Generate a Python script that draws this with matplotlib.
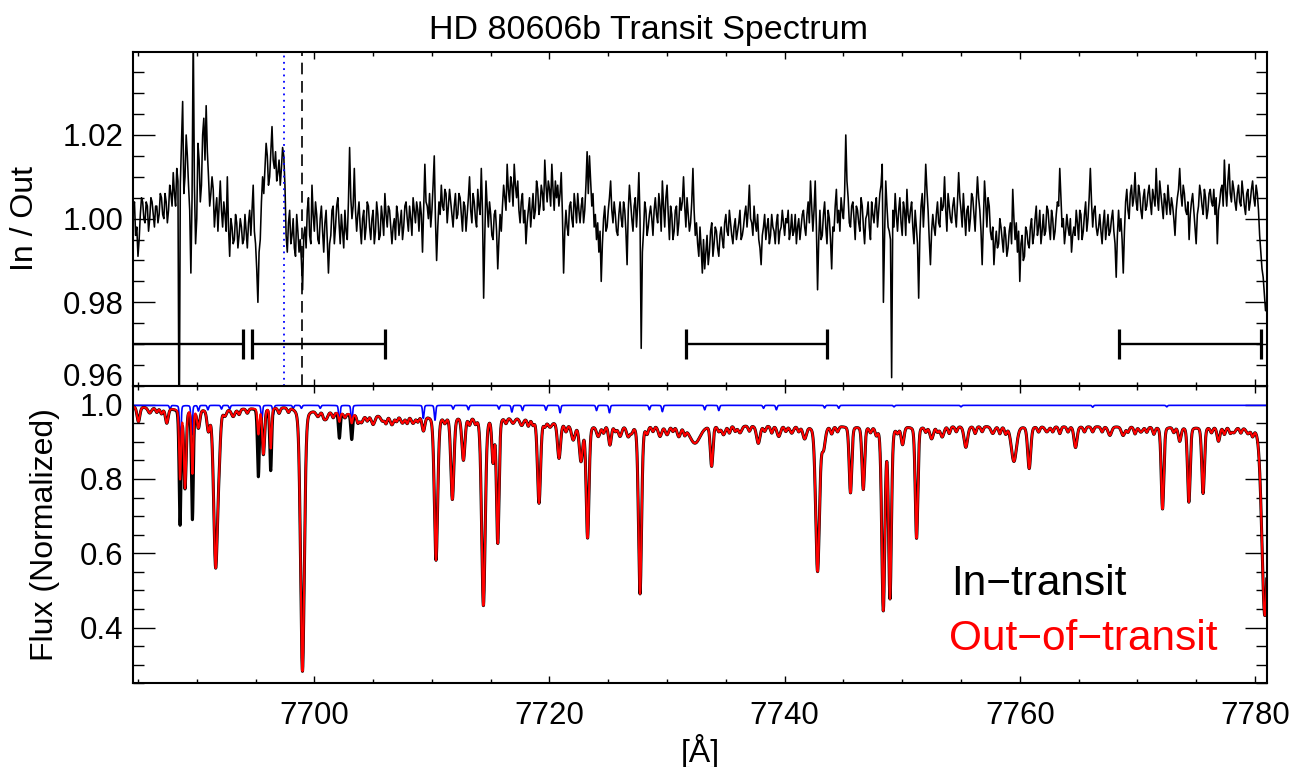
import numpy as np
import matplotlib.pyplot as plt
from matplotlib.ticker import MultipleLocator, FormatStrFormatter

plt.rcParams['font.family'] = ['Liberation Sans', 'DejaVu Sans']

# In/Out ratio, deviation from 1 in units of 1e-3.
# ratio_dev: samples at 7684.6, 7684.8, ... ; ratio_dev_mid: samples at 7684.7, 7684.9, ...
ratio_start = 7684.6
ratio_dev = [
    2, -4, -9, 1, 4, -1, 3, 0, 4, -2,            # 7684.6
    3, 1, 5, 0, 4, 2, 6, 11, 3, 9,               # 7686.6
    8, 28, 10, 15, 2, 5, 8, 0, 14, 8,            # 7688.6
    24, 27, 10, 6, 7, 2, -3, 9, -2, 1,           # 7690.6
    10, -9, -2, -5, -1, -4, -2, -5, -3, -1,      # 7692.6
    -4, 8, -6, -20, -5, 10, 12, 15, 10, 22,      # 7694.6
    12, 9, 14, 12, 15, -4, -1, -6, 0, -9,        # 7696.6
    -3, -5, -17, -2, 2, -4, 8, -3, 1, -6,        # 7698.6
    3, -8, 2, -13, -4, 3, -2, 5, -6, -3,         # 7700.6
    2, -5, 17, 0, 12, -3, 4, -6, 2, -2,          # 7702.6
    3, -5, 2, -3, 1, -4, 0, 6, -2, 2,            # 7704.6
    -6, 0, 3, -4, 2, -2, 4, -3, 0, 5,            # 7706.6
    -1, 2, 4, -8, 13, 3, 6, 2, 15, -10,          # 7708.6
    4, 8, 2, 6, 3, 4, -2, 6, 1, 5,               # 7710.6
    -3, 3, 1, 10, -1, 4, -2, 3, 12, -19,         # 7712.6
    9, -2, 1, -5, 2, -12, 1, 3, 5, 13,           # 7714.6
    4, 8, 13, 5, 2, 4, -1, -6, 2, -2,            # 7716.6
    6, 2, 7, 3, 6, 14, 4, 7, 13, 2,              # 7718.6
    5, 3, 11, -13, 2, -4, 4, -2, 3, 6,           # 7720.6
    -1, 5, 2, 16, 15, 3, -2, -5, -8, -15,        # 7722.6
    0, -3, 2, 9, -1, 1, -4, 4, -2, 2,            # 7724.6
    -11, 8, 0, 3, -2, 11, -31, -3, 2, -2,        # 7726.6
    3, -4, 5, -1, 3, 9, -2, 8, -5, 1,            # 7728.6
    -3, 3, -1, 2, 10, -2, 1, -1, 12, -4,         # 7730.6
    -6, -2, -13, -12, -4, -8, -1, -6, -3, -9,    # 7732.6
    -2, -7, 1, -4, -1, -6, 0, -3, 2, -4,         # 7734.6
    1, -2, 8, -1, 3, -3, -5, -11, -2, -5,        # 7736.6
    0, -4, -2, -6, 1, -3, 2, -4, -1, -5,         # 7738.6
    1, -3, -6, 0, -2, 2, -4, 4, 9, -3,           # 7740.6
    9, -17, 2, -4, 4, -6, 0, -12, -3, 7,         # 7742.6
    2, 5, 0, 20, 5, -2, 4, -5, 2, -3,            # 7744.6
    3, -6, 1, -2, 4, -1, 5, 2, 8, -20,           # 7746.6
    9, -2, -5, 2, 6, -3, 5, -4, 2, 7,            # 7748.6
    -1, 4, -6, -2, -19, 3, -2, 13, 2, -11,       # 7750.6
    1, -4, 4, -2, 2, 10, -3, 3, -1, 5,           # 7752.6
    -2, 11, 2, 6, -4, 3, 0, 5, -3, 10,           # 7754.6
    2, -11, 9, -2, 3, -5, -11, -3, -6, -2,       # 7756.6
    -8, -4, -7, -1, 7, -5, -8, -15, -4, -9,      # 7758.6
    -3, -7, 0, -4, 3, -2, -6, 1, -3, 2,          # 7760.6
    -5, 0, -3, 4, 12, -2, -6, 1, -4, -8,         # 7762.6
    -2, 2, -5, 1, -3, 4, 0, 12, -2, 3,           # 7764.6
    -4, 1, -6, 2, -2, -4, 0, -3, -14, 2,         # 7766.6
    0, -13, 4, 2, 6, 3, 11, 2, 6, 0,             # 7768.6
    7, 3, 8, 1, 5, 12, 2, 6, 0, 4,               # 7770.6
    8, 1, 3, -4, 5, 12, 3, 6, 1, -5,             # 7772.6
    4, 2, -6, 3, 6, 1, 5, 2, 7, 3,               # 7774.6
    1, -6, 4, 8, 14, 3, 13, 4, 7, 2,             # 7776.6
    8, 3, 6, 1, 7, 4, 9, 3, 6, -4,               # 7778.6
    -12, -18, -20,                               # 7780.6
]
ratio_dev_mid = [
    4, -2, -5, 5, 0, 4, -3, 5, 1, 3,             # 7684.7
    -1, 6, 1, 6, -1, 8, 3, 6, 12, -60,           # 7686.7
    18, 6, 20, 8, -13, 45, -6, 18, 4, 20,        # 7688.7
    14, 16, 3, 10, -2, 5, 3, 2, 4, -3,           # 7690.7
    -2, 0, -6, 1, -7, 0, -6, 1, -7, 2,           # 7692.7
    2, -3, -12, -8, 4, 6, 18, 8, 16, 14,         # 7694.7
    16, 11, 8, 17, 8, -8, 2, -4, -7, 1,          # 7696.7
    -8, -10, -4, -7, 5, -6, 1, 4, -5, 0,         # 7698.7
    -3, -1, -5, -6, 2, -6, 3, -1, 1, -7,         # 7700.7
    -3, 4, 5, 3, 2, 1, -2, 0, -5, 4,             # 7702.7
    -2, 0, -6, 4, -5, 3, -4, 1, 3, -2,           # 7704.7
    -2, -5, 1, -1, -5, 3, 0, 3, -4, 2,           # 7706.7
    4, -3, 1, 3, 4, 0, -2, 8, 0, -2,             # 7708.7
    1, 3, 7, -1, 7, 1, 3, 0, 6, 1,               # 7710.7
    4, -3, 5, 2, 6, 0, 7, 1, 2, -4,              # 7712.7
    3, 4, -4, 1, -3, -5, -3, 8, 2, 7,            # 7714.7
    10, 3, 8, 9, -1, 6, 2, -1, 5, 2,             # 7716.7
    0, 9, 1, 8, 2, 8, 9, 3, 7, 9,                # 7718.7
    8, 6, 1, -3, -2, 3, 0, 6, -1, 2,             # 7720.7
    3, -1, 8, 6, 9, 6, 1, -1, -3, -6,            # 7722.7
    3, -2, 5, 2, 4, -3, 1, 0, 4, -3,             # 7724.7
    2, 4, -3, 5, 3, 0, -8, 4, -4, 1,             # 7726.7
    0, 2, 1, 6, -3, 3, 5, 1, 3, -5,              # 7728.7
    2, -4, 5, 4, 3, 5, -3, 4, 2, -1,             # 7730.7
    -9, -7, -5, -8, -11, -3, -9, -2, -7, -4,     # 7732.7
    -5, -1, -3, 2, -4, -2, -5, -1, -5, -2,       # 7734.7
    3, 2, 0, -4, -1, 1, -7, -4, 1, -2,           # 7736.7
    -6, 1, -3, -1, -6, -2, -1, 0, 2, -3,         # 7738.7
    -4, 1, -2, -5, 1, -2, 1, -1, 3, 2,           # 7740.7
    -2, -5, -5, 1, -2, 2, -5, -2, 3, -1,         # 7742.7
    -3, 2, 6, 9, -1, 3, 0, 3, -1, 5,             # 7744.7
    -2, 0, 4, -5, 1, 3, -2, 6, 13, -4,           # 7746.7
    3, -3, -38, -2, 1, 2, -1, 4, -4, 1,          # 7748.7
    2, -2, 2, -6, -4, 6, 4, 7, -5, -3,           # 7750.7
    -2, 1, -1, 5, 3, 2, 6, 0, 3, 1,              # 7752.7
    4, 5, -2, 1, 2, -3, 6, 1, 4, 5,              # 7754.7
    -3, -1, 4, 5, -3, -2, -6, -7, 0, -5,         # 7756.7
    -2, -9, -3, -6, 0, -1, -3, -6, -10, -2,      # 7758.7
    -6, -2, -6, 0, -4, 2, -3, -4, 3, -2,         # 7760.7
    2, -5, 1, 3, 5, 0, -3, -2, 0, -4,            # 7762.7
    -4, -1, 2, -5, 1, -3, 5, 4, 2, -2,           # 7764.7
    -2, -3, -1, -5, 1, -3, 2, -6, -4, -3,        # 7766.7
    -5, -3, 7, 0, 8, 5, 4, 8, 2, 5,              # 7768.7
    2, 6, 4, 7, 3, 5, 9, 3, 6, 1,                # 7770.7
    4, 5, 0, 2, 7, 6, 8, 2, 4, 1,                # 7772.7
    6, -2, 1, 8, 3, 7, 0, 6, 4, 7,               # 7774.7
    5, 2, 7, 3, 7, 9, 6, 9, 4, 6,                # 7776.7
    4, 9, 3, 6, 2, 7, 5, 8, 2, -8,               # 7778.7
    -14, -22,                                    # 7780.7
]

# upper envelope of the normalized stellar spectrum
cont_wave = [7684.6, 7688.0, 7694.0, 7698.0, 7700.5, 7702.5, 7704.0, 7716.0, 7719.0, 7722.0, 7781.0]
cont_flux = [0.995, 0.99, 0.99, 0.995, 0.985, 0.978, 0.972, 0.968, 0.962, 0.945, 0.94]

# stellar lines seen in both spectra: centre [A], depth, width [A]
star_wave = [7685.04, 7686.0, 7687.45, 7689.0, 7690.14, 7690.99, 7691.61, 7691.9, 7692.4, 7693.1,
             7695.67, 7698.99, 7700.3, 7701.0, 7704.0, 7705.0, 7705.8, 7706.6, 7707.5, 7708.4,
             7709.28, 7710.35, 7711.74, 7712.68, 7714.38, 7715.2, 7715.6, 7716.9, 7717.63, 7719.11,
             7720.04, 7720.81, 7722.02, 7722.68, 7723.24, 7724.15, 7725.14, 7726.0, 7726.7, 7727.7,
             7729.4, 7730.0, 7731.0, 7732.37, 7733.79, 7734.8, 7736.2, 7737.76, 7739.5, 7740.6,
             7741.7, 7742.8, 7743.3, 7745.6, 7746.69, 7748.39, 7748.96, 7750.03, 7751.22, 7752.5,
             7753.4, 7755.41, 7757.7, 7759.5, 7760.8, 7762.3, 7764.74, 7767.66, 7768.79, 7770.3,
             7772.14, 7773.6, 7774.38, 7775.59, 7776.9, 7778.2, 7779.4, 7780.84]
star_depth = [0.04, 0.015, 0.04, 0.215, 0.05, 0.055, 0.43, 0.08, 0.015, 0.02,
              0.125, 0.715, 0.015, 0.02, 0.02, 0.025, 0.015, 0.025, 0.02, 0.02,
              0.04, 0.40, 0.23, 0.12, 0.525, 0.12, 0.35, 0.015, 0.02, 0.235,
              0.015, 0.10, 0.04, 0.10, 0.32, 0.03, 0.055, 0.03, 0.03, 0.48,
              0.03, 0.025, 0.03, 0.05, 0.115, 0.025, 0.02, 0.05, 0.03, 0.02,
              0.035, 0.415, 0.06, 0.19, 0.18, 0.525, 0.49, 0.05, 0.32, 0.035,
              0.03, 0.06, 0.02, 0.10, 0.12, 0.015, 0.06, 0.025, 0.025, 0.015,
              0.235, 0.04, 0.215, 0.19, 0.04, 0.015, 0.015, 0.54]
star_width = [0.12, 0.15, 0.12, 0.10, 0.12, 0.12, 0.17, 0.12, 0.12, 0.15,
              0.10, 0.16, 0.15, 0.15, 0.15, 0.15, 0.15, 0.15, 0.15, 0.15,
              0.12, 0.14, 0.13, 0.13, 0.15, 0.10, 0.11, 0.15, 0.15, 0.13,
              0.15, 0.13, 0.15, 0.14, 0.12, 0.15, 0.12, 0.15, 0.15, 0.13,
              0.15, 0.15, 0.15, 0.45, 0.11, 0.15, 0.15, 0.15, 0.15, 0.15,
              0.15, 0.16, 0.15, 0.11, 0.11, 0.13, 0.12, 0.12, 0.11, 0.15,
              0.15, 0.15, 0.15, 0.22, 0.13, 0.15, 0.13, 0.15, 0.15, 0.15,
              0.11, 0.12, 0.11, 0.11, 0.12, 0.15, 0.15, 0.25]

# weak blends that give the pseudo-continuum its ripple
weak_wave = [7686.6, 7687.0, 7693.6, 7694.3, 7697.0, 7697.8, 7700.8, 7701.6, 7702.6, 7703.7,
             7704.5, 7706.1, 7707.0, 7707.9, 7708.8, 7711.1, 7713.2, 7713.7, 7716.3, 7718.2,
             7718.6, 7719.6, 7721.4, 7724.6, 7725.6, 7727.0, 7728.3, 7728.8, 7730.5, 7731.5,
             7734.4, 7735.3, 7735.8, 7737.0, 7738.3, 7738.9, 7740.1, 7741.2, 7744.0, 7744.5,
             7747.3, 7747.8, 7749.6, 7752.0, 7753.0, 7754.0, 7754.6, 7756.2, 7756.8, 7758.3,
             7758.8, 7761.6, 7762.8, 7763.4, 7764.1, 7765.5, 7766.2, 7767.0, 7769.2, 7769.8,
             7770.8, 7771.4, 7773.1, 7776.3, 7777.4, 7777.9, 7778.8, 7779.8]
weak_depth = [0.012, 0.015, 0.015, 0.012, 0.015, 0.012, 0.012, 0.015, 0.012, 0.02,
              0.015, 0.02, 0.015, 0.02, 0.015, 0.015, 0.02, 0.015, 0.015, 0.02,
              0.015, 0.015, 0.02, 0.02, 0.015, 0.015, 0.02, 0.015, 0.015, 0.02,
              0.015, 0.02, 0.015, 0.015, 0.015, 0.02, 0.015, 0.015, 0.02, 0.015,
              0.015, 0.02, 0.015, 0.015, 0.015, 0.02, 0.015, 0.02, 0.015, 0.02,
              0.02, 0.015, 0.015, 0.02, 0.015, 0.015, 0.015, 0.015, 0.015, 0.02,
              0.015, 0.02, 0.015, 0.015, 0.02, 0.015, 0.015, 0.02]
weak_width = 0.1

# telluric lines whose depth differs between the two epochs
var_wave = [7688.58, 7689.63, 7695.24, 7696.29, 7702.13, 7703.18]
var_depth_in = [0.315, 0.30, 0.185, 0.17, 0.07, 0.07]
var_depth_out = [0.19, 0.175, 0.07, 0.11, 0.025, 0.025]
var_width = 0.08

# telluric model (blue)
tell_level = 0.998
tell_wave = [7687.73, 7688.60, 7689.57, 7690.14, 7690.95, 7692.1, 7692.8, 7695.53, 7696.51, 7698.2,
             7698.9, 7700.5, 7702.13, 7703.18, 7709.27, 7710.26, 7711.8, 7713.1, 7715.7, 7716.8,
             7717.7, 7719.7, 7720.9, 7724.0, 7725.1, 7728.5, 7729.6, 7733.2, 7734.4, 7738.2,
             7739.3, 7743.4, 7744.6, 7749.3, 7755.0, 7766.2, 7772.5]
tell_depth = [0.01, 0.12, 0.08, 0.015, 0.012, 0.01, 0.01, 0.04, 0.025, 0.008,
              0.008, 0.008, 0.05, 0.05, 0.035, 0.04, 0.01, 0.012, 0.01, 0.018,
              0.014, 0.013, 0.02, 0.014, 0.02, 0.012, 0.017, 0.012, 0.014, 0.008,
              0.012, 0.007, 0.008, 0.004, 0.004, 0.005, 0.004]
tell_width = 0.06

# K I rest and shifted position, integration bands
k_rest = 7698.96
k_shift = 7697.45
band_lo = [7681.9, 7694.68, 7731.58, 7768.45]
band_hi = [7693.91, 7706.01, 7743.57, 7780.48]
band_y = 0.97


def absorb(wave, centres, depths, widths):
    f = np.ones_like(wave)
    widths = np.broadcast_to(widths, np.shape(centres))
    for c, d, w in zip(centres, depths, widths):
        g = np.exp(-0.5 * ((wave - c) / w) ** 2)
        lor = 1.0 / (1.0 + ((wave - c) / (1.1774 * w)) ** 2)
        f *= 1 - d * (0.8 * g + 0.2 * lor)
    return f


dev = np.empty(len(ratio_dev) + len(ratio_dev_mid))
dev[0::2] = ratio_dev
dev[1::2] = ratio_dev_mid
ratio = 1 + 0.001 * dev
ratio_wave = ratio_start + 0.1 * np.arange(len(ratio))

wave = np.arange(7684.6, 7781.005, 0.01)
stellar = (np.interp(wave, cont_wave, cont_flux)
           * absorb(wave, star_wave, star_depth, star_width)
           * absorb(wave, weak_wave, weak_depth, weak_width))
flux_in = stellar * absorb(wave, var_wave, var_depth_in, var_width)
flux_out = stellar * absorb(wave, var_wave, var_depth_out, var_width)
telluric = tell_level * absorb(wave, tell_wave, tell_depth, tell_width)

fig = plt.figure(figsize=(13.04, 7.67), dpi=100)
ax1 = fig.add_axes([0.1022, 0.4967, 0.8692, 0.4359])
ax2 = fig.add_axes([0.1022, 0.1091, 0.8692, 0.3876])

# top panel
ax1.plot(ratio_wave, ratio, color='k', lw=1.15)
ax1.axvline(k_shift, color='blue', ls=(0, (1, 2.5)), lw=1.3)
ax1.axvline(k_rest, color='k', ls=(0, (7, 4)), lw=1.2)
ax1.hlines([band_y] * len(band_lo), band_lo, band_hi, color='k', lw=1.7)
band_ends = band_lo + band_hi
ax1.vlines(band_ends, [band_y - 0.0036] * len(band_ends), [band_y + 0.0036] * len(band_ends),
           color='k', lw=2.3)
ax1.set_ylim(0.96, 1.0399)
ax1.set_yticks([0.96, 0.98, 1.00, 1.02])
ax1.yaxis.set_minor_locator(MultipleLocator(0.005))
ax1.yaxis.set_major_formatter(FormatStrFormatter('%.2f'))
ax1.set_ylabel('In / Out', fontsize=23)
ax1.yaxis.set_label_coords(-0.082, 0.5)
ax1.tick_params(labelbottom=False)

# bottom panel
ax2.plot(wave, telluric, color='blue', lw=1.2)
ax2.plot(wave, flux_in, color='k', lw=2.2)
ax2.plot(wave, flux_out, color='red', lw=1.5)
ax2.set_ylim(0.25, 1.05)
ax2.set_yticks([0.4, 0.6, 0.8, 1.0])
ax2.yaxis.set_minor_locator(MultipleLocator(0.05))
ax2.yaxis.set_major_formatter(FormatStrFormatter('%.1f'))
ax2.set_ylabel('Flux (Normalized)', fontsize=23)
ax2.yaxis.set_label_coords(-0.0647, 0.5)
ax2.set_xlabel('[Å]', fontsize=23, labelpad=2)
ax2.text(7754.14, 0.488, 'In\u2212transit', color='k', fontsize=30.5, va='baseline')
ax2.text(7754.0, 0.340, 'Out\u2212of\u2212transit', color='red', fontsize=30.5, va='baseline')

for ax in (ax1, ax2):
    ax.set_xlim(7684.6, 7781.0)
    ax.xaxis.set_major_locator(MultipleLocator(20))
    ax.xaxis.set_minor_locator(MultipleLocator(5))
    ax.tick_params(axis='x', which='major', direction='in', length=5.3, width=1.0,
                   top=True, bottom=True, pad=13)
    ax.tick_params(axis='x', which='minor', direction='in', length=2.8, width=1.0,
                   top=True, bottom=True)
    ax.tick_params(axis='y', which='major', direction='in', length=15.6, width=1.0,
                   left=True, right=True, pad=7)
    ax.tick_params(axis='y', which='minor', direction='in', length=7.9, width=1.0,
                   left=True, right=True)
    ax.tick_params(labelsize=22.5)
    for s in ax.spines.values():
        s.set_linewidth(1.5)

# lowest label of the top panel sits on its baseline like the original
for lab in ax1.get_yticklabels():
    if lab.get_text() == '0.96':
        lab.set_verticalalignment('baseline')

fig.text(0.497, 0.9488, 'HD 80606b Transit Spectrum', fontsize=24.5, ha='center', va='baseline')

fig.savefig('out.png', dpi=100)
